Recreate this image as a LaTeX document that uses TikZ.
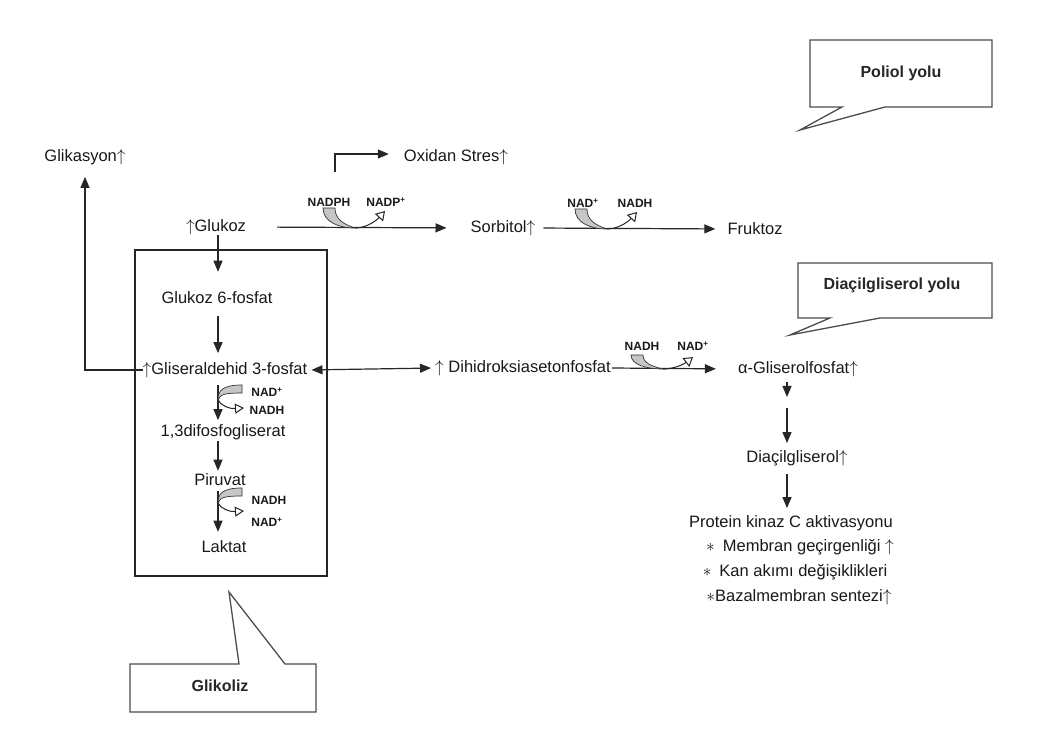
\documentclass[tikz,border=0pt]{standalone}
\usepackage{fontspec}
\setmainfont{Liberation Sans}
\usetikzlibrary{arrows.meta,calc}
\newcommand\upa{\ensuremath{\uparrow}}
\tikzset{
  txt/.style={inner sep=0pt, font=\fontsize{16.5}{19}\selectfont, text=black!90},
  cof/.style={inner sep=0pt, font=\bfseries\fontsize{12}{14}\selectfont, text=black!90},
  calltxt/.style={inner sep=0pt, font=\bfseries\fontsize{16}{19}\selectfont, text=black!85},
  arr/.style={-{Triangle[length=11pt,width=9pt]}, line width=1.2pt, draw=black!85},
  dblarr/.style={{Triangle[length=11pt,width=9pt]}-{Triangle[length=11pt,width=9pt]}, line width=1.2pt, draw=black!85},
  callout/.style={draw=black!70, line width=1.3pt, line join=miter},
  hcof/.pic={
    \filldraw[fill=gray!45, draw=black!80, line width=0.7pt]
      (-32,-20) .. controls (-32,-6) and (-16,0) .. (0,0)
      .. controls (-12,-4) and (-20,-9) .. (-20,-20) -- cycle;
    \draw[line width=1pt, draw=black!85, -{Triangle[open,length=9pt,width=11pt]}]
      (0,0) .. controls (10,0) and (20,-6) .. (30,-17);
  },
  vcof/.pic={
    \filldraw[fill=gray!45, draw=black!80, line width=0.7pt]
      (24,-15) .. controls (4,-15) and (0,-9) .. (0,0)
      .. controls (2,-6) and (8,-7) .. (24,-7) -- cycle;
    \draw[line width=1pt, draw=black!85, -{Triangle[open,length=9pt,width=10pt]}]
      (0,0) .. controls (3,6) and (12,9) .. (26,8);
  }
}
\begin{document}
\begin{tikzpicture}[x=1pt,y=-1pt]
\useasboundingbox[fill=white] (0,0) rectangle (1053,735);

% glycolysis box
\draw[line width=1.2pt, draw=black!85] (135,250) rectangle (327,576);

% main nodes
\node[txt] (glik) at (85,157) {Glikasyon\upa};
\node[txt] (ox) at (456,157) {Oxidan Stres\upa};
\node[txt] (glu) at (216,227) {\upa Glukoz};
\node[txt] (sor) at (503,228) {Sorbitol\upa};
\node[txt] (fru) at (755,229) {Fruktoz};
\node[txt] (g6p) at (217,298) {Glukoz 6-fosfat};
\node[txt] (g3p) at (225,370) {\upa Gliseraldehid 3-fosfat};
\node[txt] (dpg) at (223,432) {1,3difosfogliserat};
\node[txt] (pir) at (220,480) {Piruvat};
\node[txt] (lak) at (224,547) {Laktat};
\node[txt] (dhap) at (523,368) {\upa\ Dihidroksiasetonfosfat};
\node[txt] (agp) at (798,369) {α-Gliserolfosfat\upa};
\node[txt] (dag) at (797,458) {Diaçilgliserol\upa};
\node[txt] (pkc) at (791,523) {Protein kinaz C aktivasyonu};
\node[txt] (e1) at (800,547) {$\ast$\hspace{8pt}Membran geçirgenliği \upa};
\node[txt] (e2) at (795,572) {$\ast$\hspace{8pt}Kan akımı değişiklikleri};
\node[txt] (e3) at (799,597) {$\ast$Bazalmembran sentezi\upa};

% cofactor labels
\node[cof] (nadph1) at (329,202) {NADPH};
\node[cof] (nadp1) at (386,202) {NADP\textsuperscript{+}};
\node[cof] (nad2) at (583,203) {NAD\textsuperscript{+}};
\node[cof] (nadh2) at (635,203) {NADH};
\node[cof] (nadh3) at (642,346) {NADH};
\node[cof] (nad3) at (693,346) {NAD\textsuperscript{+}};
\node[cof] (nad4) at (267,392) {NAD\textsuperscript{+}};
\node[cof] (nadh4) at (267,410) {NADH};
\node[cof] (nadh5) at (269,500) {NADH};
\node[cof] (nad5) at (267,522) {NAD\textsuperscript{+}};

% helper coordinates
\coordinate (col) at (218,0);
\coordinate (col2) at (787,0);
\coordinate (oxs) at (335,172);
\coordinate (mid) at (787,402);

% connectors
\draw[arr, shorten >=12pt] (g3p.west) -| (glik.south);
\draw[arr, shorten >=15pt] (oxs) |- ([yshift=3pt]ox.west);
\draw[arr, shorten <=31pt, shorten >=24pt] (glu.east) -- (sor.west);
\draw[arr, shorten <=8pt, shorten >=12pt] (sor.east) -- (fru.west);
\draw[arr, shorten >=20pt] (col |- glu.south) -- (col |- g6p.north);
\draw[arr, shorten <=12pt, shorten >=9pt] (col |- g6p.south) -- (col |- g3p.north);
\draw[arr, shorten <=7pt, shorten >=4pt] (col |- g3p.south) -- (col |- dpg.north);
\draw[arr, shorten <=1pt, shorten >=3pt] (col |- dpg.south) -- (col |- pir.north);
\draw[arr, shorten <=5pt, shorten >=9pt] (col |- pir.south) -- (col |- lak.north);
\draw[dblarr, shorten <=4pt, shorten >=4pt] (g3p.east) -- (dhap.west);
\draw[arr, shorten <=1pt, shorten >=22pt] (dhap.east) -- (agp.west);
\draw[arr, shorten <=5pt, shorten >=5pt] (col2 |- agp.south) -- (mid);
\draw[arr, shorten <=6pt, shorten >=7pt] (mid) -- (col2 |- dag.north);
\draw[arr, shorten <=8pt, shorten >=7pt] (col2 |- dag.south) -- (col2 |- pkc.north);

% cofactor curves
\pic at (355,228) {hcof};
\pic at (607,229) {hcof};
\pic[yscale=0.7] at (663,369) {hcof};
\pic at (218,400) {vcof};
\pic at (218,503) {vcof};

% callouts
\draw[callout] (810,40) -- (992,40) -- (992,107) -- (885,107) -- (800,130) -- (842,107) -- (810,107) -- cycle;
\node[calltxt] (poliol) at (901,73) {Poliol yolu};
\draw[callout] (798,263) -- (992,263) -- (992,318) -- (880,318) -- (790,335) -- (830,318) -- (798,318) -- cycle;
\node[calltxt] (diacil) at (892,285) {Diaçilgliserol yolu};
\draw[callout] (130,664) -- (239,664) -- (229,592) -- (285,664) -- (316,664) -- (316,712) -- (130,712) -- cycle;
\node[calltxt] (glikoliz) at (220,686) {Glikoliz};
\end{tikzpicture}
\end{document}
